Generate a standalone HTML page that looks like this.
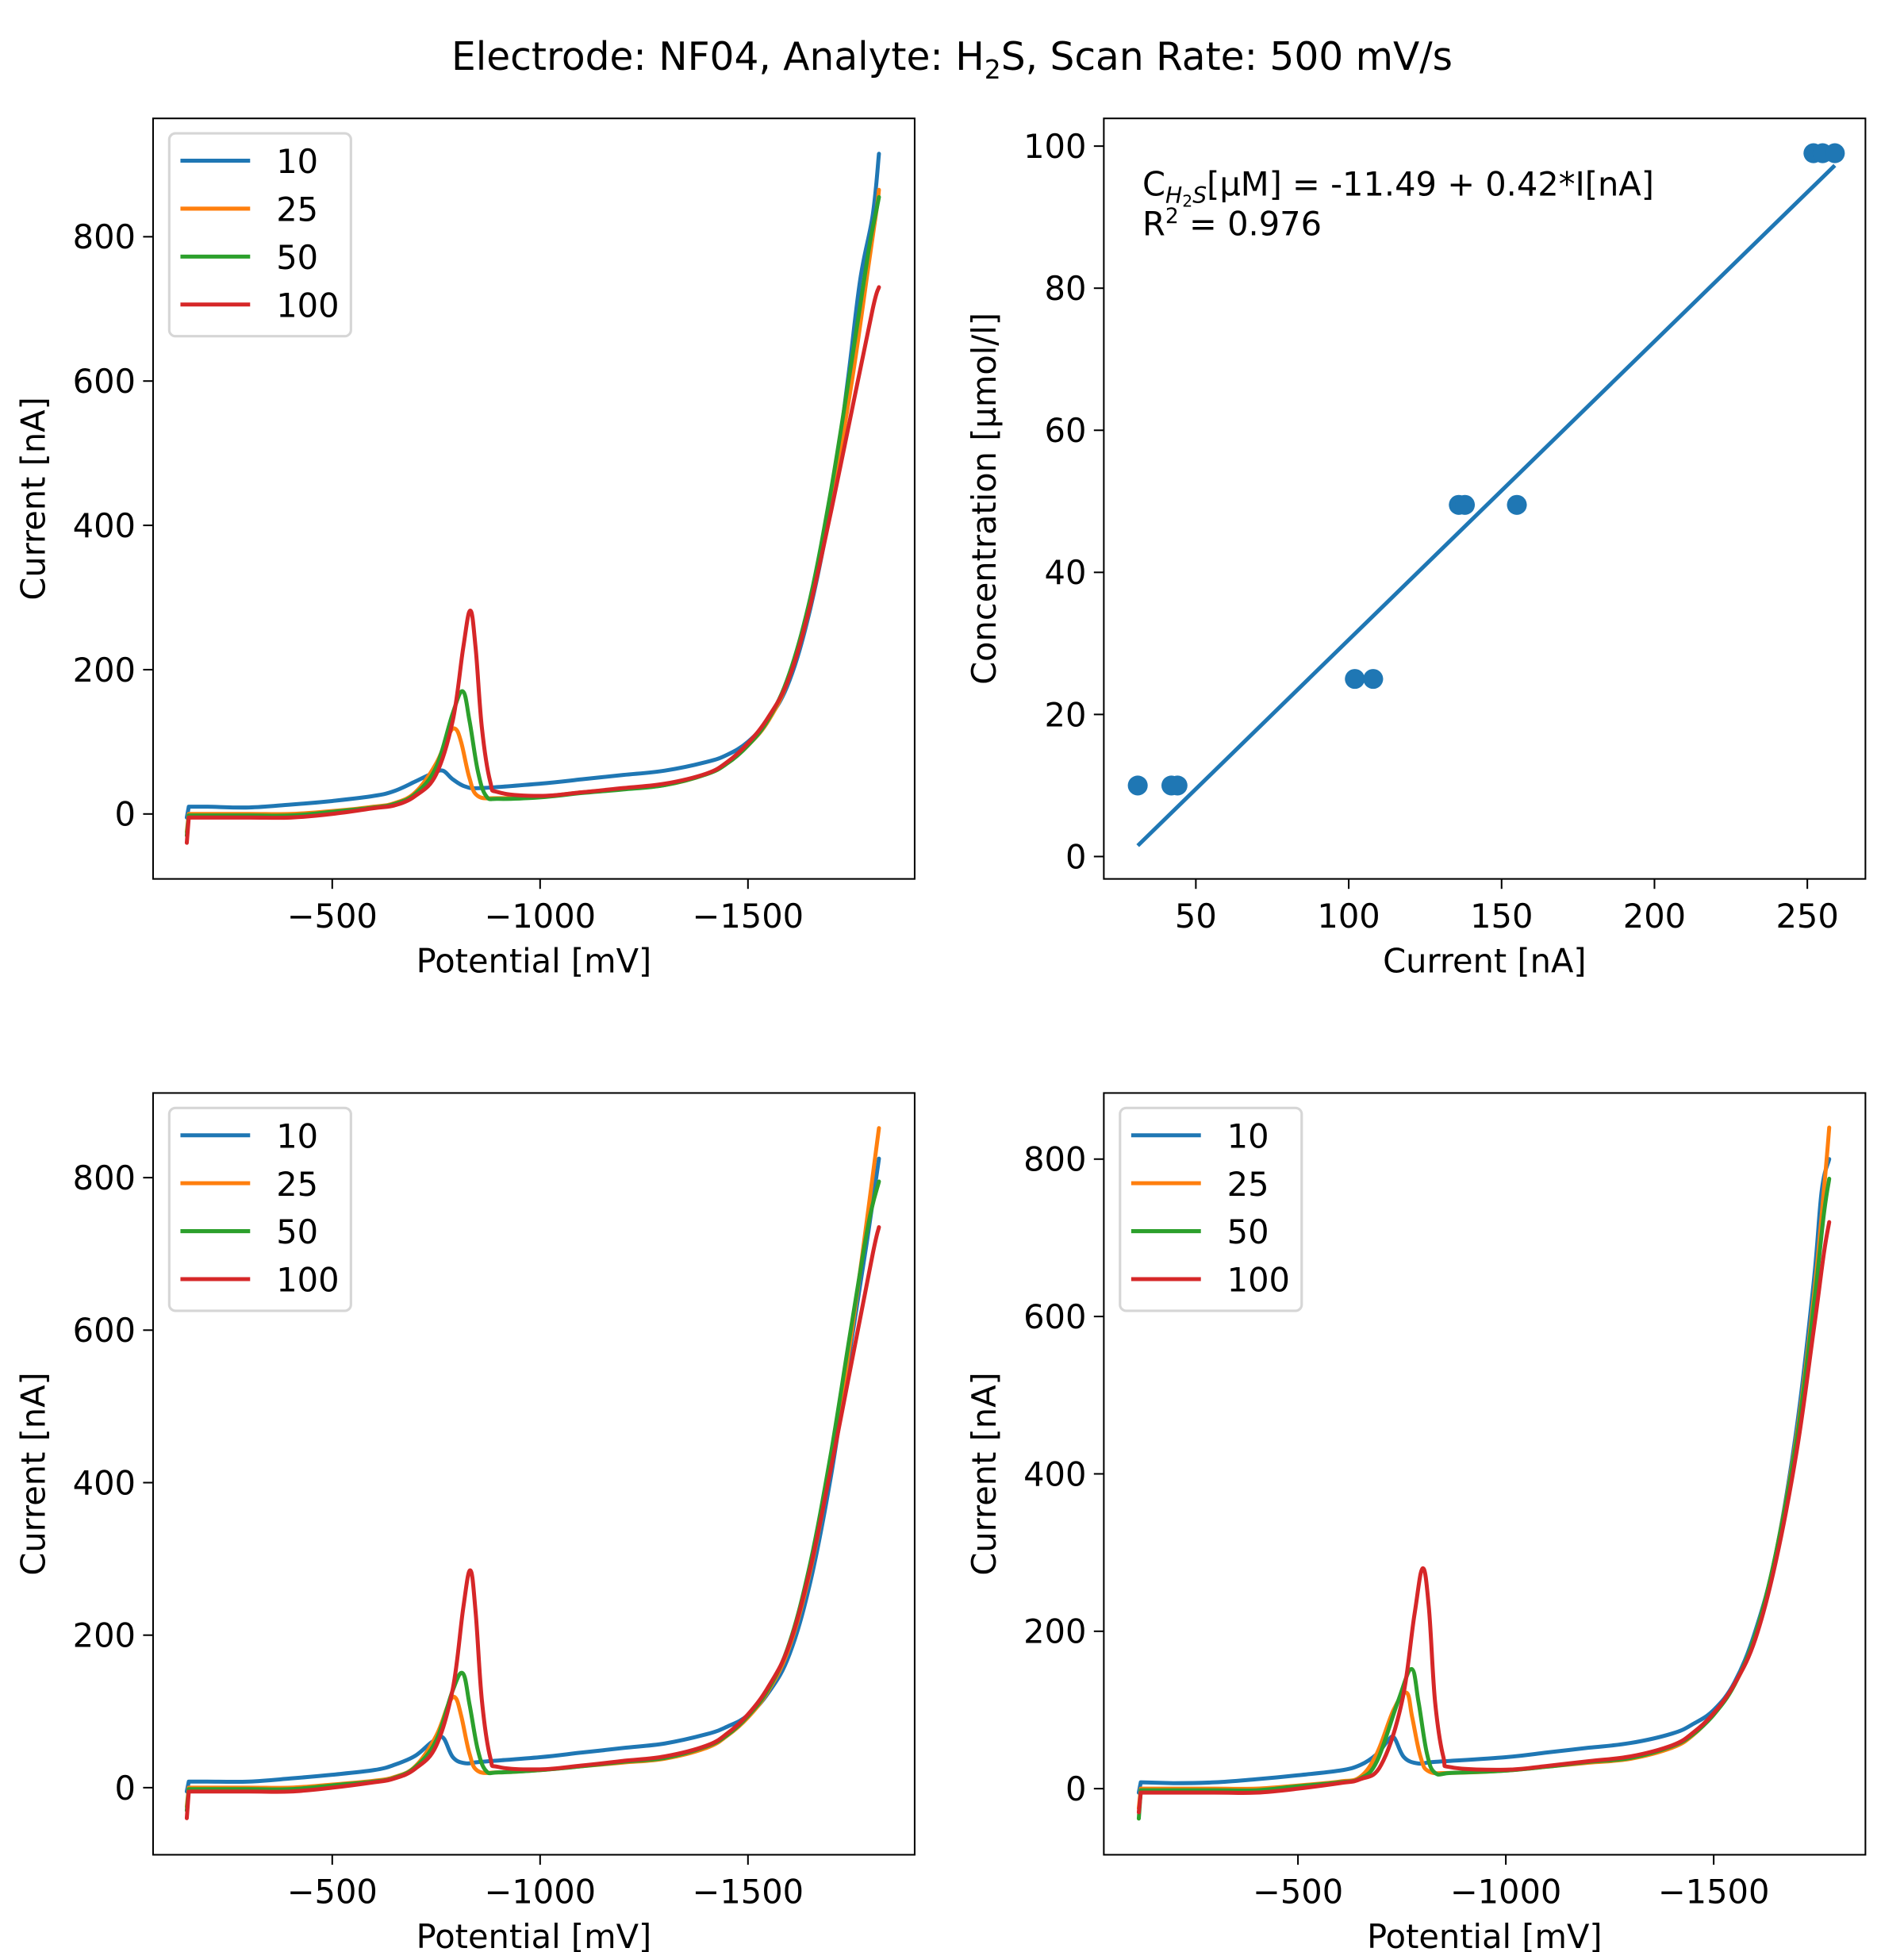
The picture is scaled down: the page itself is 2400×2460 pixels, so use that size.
<!DOCTYPE html>
<html><head><meta charset="utf-8"><style>
html,body{margin:0;padding:0;background:#fff}
svg{display:block;font-family:"DejaVu Sans","Liberation Sans",sans-serif}
</style></head><body>
<svg id="fig" width="2400" height="2460" viewBox="0 0 1530 1568" xmlns="http://www.w3.org/2000/svg">
<text x="765" y="56" font-size="31" text-anchor="middle">Electrode: NF04, Analyte: H<tspan font-size="21" dy="7">2</tspan><tspan dy="-7">S, Scan Rate: 500 mV/s</tspan></text>
</svg>
<script>
const colors=['#1f77b4','#ff7f0e','#2ca02c','#d62728'];
const seriesLabels=['10','25','50','100'];
// Panel A (top-left)
const aBlue=[[-150,-5],[-155,10],[-200,10],[-300,9],[-400,13],[-500,18],[-600,25],[-650,32],[-700,45],[-740,56],[-766,60],[-790,48],[-820,38],[-860,36],[-1000,42],[-1100,48],[-1200,54],[-1300,60],[-1400,72],[-1450,82],[-1500,100],[-1550,132],[-1600,185],[-1650,285],[-1700,430],[-1740,600],[-1770,740],[-1800,830],[-1815,915]];
const aOrange=[[-150,-25],[-155,0],[-300,0],[-400,0],[-500,4],[-600,10],[-650,15],[-700,30],[-750,70],[-780,110],[-796,118],[-810,100],[-830,50],[-850,25],[-900,22],[-1000,24],[-1100,30],[-1200,35],[-1300,40],[-1400,55],[-1450,70],[-1500,95],[-1550,130],[-1600,190],[-1650,290],[-1700,430],[-1750,600],[-1790,760],[-1810,840],[-1815,865]];
const aGreen=[[-150,-30],[-155,-2],[-300,-2],[-400,-2],[-500,3],[-600,9],[-650,14],[-700,28],[-750,65],[-790,140],[-814,170],[-830,130],[-850,60],[-870,25],[-900,21],[-1000,23],[-1100,29],[-1200,34],[-1300,40],[-1400,55],[-1450,70],[-1500,95],[-1550,132],[-1600,195],[-1650,300],[-1700,450],[-1750,630],[-1790,780],[-1810,840],[-1815,855]];
const aRed=[[-150,-40],[-155,-5],[-300,-5],[-400,-5],[-500,0],[-600,8],[-650,12],[-700,25],[-750,55],[-790,130],[-815,230],[-832,282],[-845,230],[-860,120],[-880,45],[-900,30],[-1000,25],[-1100,30],[-1200,36],[-1300,42],[-1400,56],[-1450,72],[-1500,98],[-1550,135],[-1600,190],[-1650,290],[-1700,420],[-1750,560],[-1800,700],[-1815,730]];
// Panel C (bottom-left)
const cBlue=[[-150,-5],[-155,8],[-200,8],[-300,8],[-400,12],[-500,17],[-600,23],[-650,30],[-700,42],[-740,60],[-766,66],[-790,40],[-820,32],[-860,34],[-1000,40],[-1100,46],[-1200,52],[-1300,58],[-1400,70],[-1450,80],[-1500,95],[-1550,125],[-1600,175],[-1650,270],[-1700,410],[-1750,590],[-1790,730],[-1815,825]];
const cOrange=[[-150,-25],[-155,0],[-300,0],[-400,0],[-500,4],[-600,9],[-650,14],[-700,28],[-750,68],[-780,110],[-796,118],[-810,95],[-830,45],[-850,22],[-900,20],[-1000,23],[-1100,28],[-1200,33],[-1300,38],[-1400,52],[-1450,68],[-1500,92],[-1550,128],[-1600,185],[-1650,285],[-1700,425],[-1750,600],[-1790,760],[-1815,865]];
const cGreen=[[-150,-30],[-155,-2],[-300,-2],[-400,-2],[-500,3],[-600,8],[-650,13],[-700,27],[-750,62],[-790,128],[-814,150],[-830,110],[-850,50],[-870,22],[-900,20],[-1000,23],[-1100,28],[-1200,34],[-1300,39],[-1400,54],[-1450,69],[-1500,94],[-1550,130],[-1600,190],[-1650,295],[-1700,440],[-1750,610],[-1790,740],[-1815,795]];
const cRed=[[-150,-40],[-155,-5],[-300,-5],[-400,-5],[-500,0],[-600,7],[-650,12],[-700,25],[-750,55],[-790,130],[-815,235],[-832,285],[-845,230],[-860,115],[-880,40],[-900,27],[-1000,24],[-1100,29],[-1200,35],[-1300,41],[-1400,55],[-1450,71],[-1500,96],[-1550,133],[-1600,188],[-1650,288],[-1700,420],[-1750,560],[-1800,700],[-1815,735]];
// Panel D (bottom-right)
const dBlue=[[-117,-5],[-122,8],[-200,7],[-300,8],[-400,12],[-500,17],[-600,23],[-650,30],[-690,44],[-715,60],[-731,65],[-755,40],[-790,32],[-830,34],[-1000,40],[-1100,46],[-1200,52],[-1300,58],[-1400,70],[-1450,82],[-1500,100],[-1550,135],[-1600,200],[-1650,300],[-1700,460],[-1740,640],[-1760,760],[-1778,800]];
const dOrange=[[-117,-25],[-122,0],[-300,0],[-400,0],[-500,4],[-600,9],[-650,15],[-690,45],[-730,100],[-761,122],[-775,90],[-795,40],[-815,22],[-870,20],[-1000,23],[-1100,28],[-1200,33],[-1300,38],[-1400,52],[-1450,68],[-1500,95],[-1550,132],[-1600,195],[-1650,300],[-1700,450],[-1740,620],[-1765,760],[-1778,840]];
const dGreen=[[-117,-38],[-122,-2],[-300,-2],[-400,-2],[-500,3],[-600,8],[-650,13],[-690,35],[-740,110],[-773,152],[-790,110],[-810,45],[-830,20],[-870,20],[-1000,23],[-1100,28],[-1200,34],[-1300,39],[-1400,54],[-1450,69],[-1500,94],[-1550,132],[-1600,195],[-1650,300],[-1700,445],[-1740,610],[-1765,730],[-1778,775]];
const dRed=[[-117,-30],[-122,-5],[-300,-5],[-400,-5],[-500,0],[-600,7],[-650,12],[-700,30],[-750,110],[-780,220],[-800,280],[-815,230],[-830,110],[-850,40],[-870,27],[-1000,24],[-1100,29],[-1200,35],[-1300,41],[-1400,55],[-1450,71],[-1500,96],[-1550,133],[-1600,190],[-1650,290],[-1700,430],[-1740,580],[-1765,680],[-1778,720]];
// Panel B (calibration scatter)
const calCurrent=[31,42,44,102,108,136,138,155,252,255,259];
const calConc=[10,10,10,25,25,49.5,49.5,49.5,99,99,99];
const fitIntercept=-11.49, fitSlope=0.42;
const potTicks=[-500,-1000,-1500];
const potTickLabels=['\u2212500','\u22121000','\u22121500'];
const aYTicks=[0,200,400,600,800];
const cYTicks=[0,200,400,600,800];
const dYTicks=[0,200,400,600,800];
const bXTicks=[50,100,150,200,250];
const bYTicks=[0,20,40,60,80,100];

const NS='http://www.w3.org/2000/svg';
const svg=document.getElementById('fig');
const FS=26.5;
function mk(tag,attrs,parent){const e=document.createElementNS(NS,tag);for(const k in attrs)e.setAttribute(k,attrs[k]);(parent||svg).appendChild(e);return e;}

function axes(box,xd,yd,xticks,xlabels,yticks,xtitle,ytitle,name,ytx){
  const g=mk('g',{});
  
  
  const sx=v=>box.x+(v-xd[0])/(xd[1]-xd[0])*box.w;
  const sy=v=>box.y+box.h-(v-yd[0])/(yd[1]-yd[0])*box.h;
  xticks.forEach((t,i)=>{const X=sx(t);
    const l=mk('line',{x1:X,x2:X,y1:box.y+box.h,y2:box.y+box.h+8,stroke:'#000','stroke-width':1.3},g);
    
    const tx=mk('text',{x:X,y:box.y+box.h+39,'font-size':FS,'text-anchor':'middle'},g);tx.textContent=xlabels[i];
    });
  yticks.forEach(t=>{const Y=sy(t);
    const l=mk('line',{x1:box.x-8,x2:box.x,y1:Y,y2:Y,stroke:'#000','stroke-width':1.3},g);
    
    const tx=mk('text',{x:box.x-14,y:Y+9.5,'font-size':FS,'text-anchor':'end'},g);tx.textContent=String(t);
    });
  const xt=mk('text',{x:box.x+box.w/2,y:box.y+box.h+75,'font-size':FS,'text-anchor':'middle'},g);xt.textContent=xtitle;
  
  const cx=ytx,cy=box.y+box.h/2;
  const yt=mk('text',{x:cx,y:cy,'font-size':FS,'text-anchor':'middle',transform:`rotate(-90 ${cx} ${cy})`},g);yt.textContent=ytitle;
  
  return {g,sx,sy,box};
}
function frame(ax){const r=mk('rect',{x:ax.box.x,y:ax.box.y,width:ax.box.w,height:ax.box.h,fill:'none',stroke:'#000','stroke-width':1.3},ax.g);
  }
function smoothPath(pts){
  let d='M'+pts[0][0].toFixed(1)+','+pts[0][1].toFixed(1);
  for(let i=0;i<pts.length-1;i++){
    const p0=pts[Math.max(0,i-1)],p1=pts[i],p2=pts[i+1],p3=pts[Math.min(pts.length-1,i+2)];
    const t=(i<2)?0:0.18;
    const c1=[p1[0]+(p2[0]-p0[0])*t,p1[1]+(p2[1]-p0[1])*t];
    const c2=[p2[0]-(p3[0]-p1[0])*t,p2[1]-(p3[1]-p1[1])*t];
    d+=` C${c1[0].toFixed(1)},${c1[1].toFixed(1)} ${c2[0].toFixed(1)},${c2[1].toFixed(1)} ${p2[0].toFixed(1)},${p2[1].toFixed(1)}`;
  }
  return d;
}
let clipN=0;
function curves(ax,list){
  const cp=mk('clipPath',{id:'clip'+(clipN++)},ax.g);
  mk('rect',{x:ax.box.x,y:ax.box.y,width:ax.box.w,height:ax.box.h},cp);
  list.forEach((d,i)=>{const pts=d.map(q=>[ax.sx(q[0]),ax.sy(q[1])]);
    const p=mk('path',{d:smoothPath(pts),fill:'none',stroke:colors[i],'stroke-width':3.2,'stroke-linejoin':'round','stroke-linecap':'round','clip-path':`url(#${cp.id})`},ax.g);
    });
}
function legend(ax){
  const x=ax.box.x+13,y=ax.box.y+12;
  const lg=mk('g',{},ax.g);
  mk('rect',{x:x,y:y,width:146,height:163,rx:5,fill:'#fff','fill-opacity':0.85,stroke:'#d6d6d6','stroke-width':2},lg);
  seriesLabels.forEach((s,i)=>{const Y=y+22+i*38.5;
    const e=mk('g',{},lg);
    mk('line',{x1:x+9,x2:x+65,y1:Y,y2:Y,stroke:colors[i],'stroke-width':3.2},e);
    const t=mk('text',{x:x+86,y:Y+10,'font-size':FS},e);t.textContent=s;});
}
function potPanel(box,xd,yd,yt,data,name,ytx){
  const ax=axes(box,xd,yd,potTicks,potTickLabels,yt,'Potential [mV]','Current [nA]',name,ytx);
  curves(ax,data);frame(ax);legend(ax);
}
potPanel({x:123,y:95,w:612,h:611},[-69,-1901],[-90,964],aYTicks,[aBlue,aOrange,aGreen,aRed],'panel-top-left',36);
potPanel({x:123,y:878,w:612,h:612},[-69,-1901],[-88,911],cYTicks,[cBlue,cOrange,cGreen,cRed],'panel-bottom-left',36);
potPanel({x:887,y:878,w:612,h:612},[-33,-1865],[-84,884],dYTicks,[dBlue,dOrange,dGreen,dRed],'panel-bottom-right',800);

// calibration panel
const bx=axes({x:887,y:95,w:612,h:611},[19.9,269],[-3.15,103.9],bXTicks,bXTicks.map(String),bYTicks,'Current [nA]','Concentration [\u00b5mol/l]','panel-top-right',800);
const xmin=Math.min(...calCurrent),xmax=Math.max(...calCurrent);
const fl=mk('line',{x1:bx.sx(xmin),y1:bx.sy(fitIntercept+fitSlope*xmin),x2:bx.sx(xmax),y2:bx.sy(fitIntercept+fitSlope*xmax),stroke:colors[0],'stroke-width':3.2},bx.g);

calCurrent.forEach((c,i)=>{const p=mk('circle',{cx:bx.sx(c),cy:bx.sy(calConc[i]),r:8,fill:colors[0]},bx.g);
  });
frame(bx);
const ann=mk('text',{x:918,y:157,'font-size':FS},bx.g);

ann.innerHTML='C<tspan font-size="18" dy="6" font-style="italic">H</tspan><tspan font-size="13" dy="3">2</tspan><tspan font-size="18" dy="-3" font-style="italic">S</tspan><tspan dy="-6">[\u00b5M] = -11.49 + 0.42*I[nA]</tspan>';
const r2=mk('text',{x:918,y:189,'font-size':FS},bx.g);

r2.innerHTML='R<tspan font-size="17" dy="-10">2</tspan><tspan dy="10"> = 0.976</tspan>';
</script>
</body></html>
